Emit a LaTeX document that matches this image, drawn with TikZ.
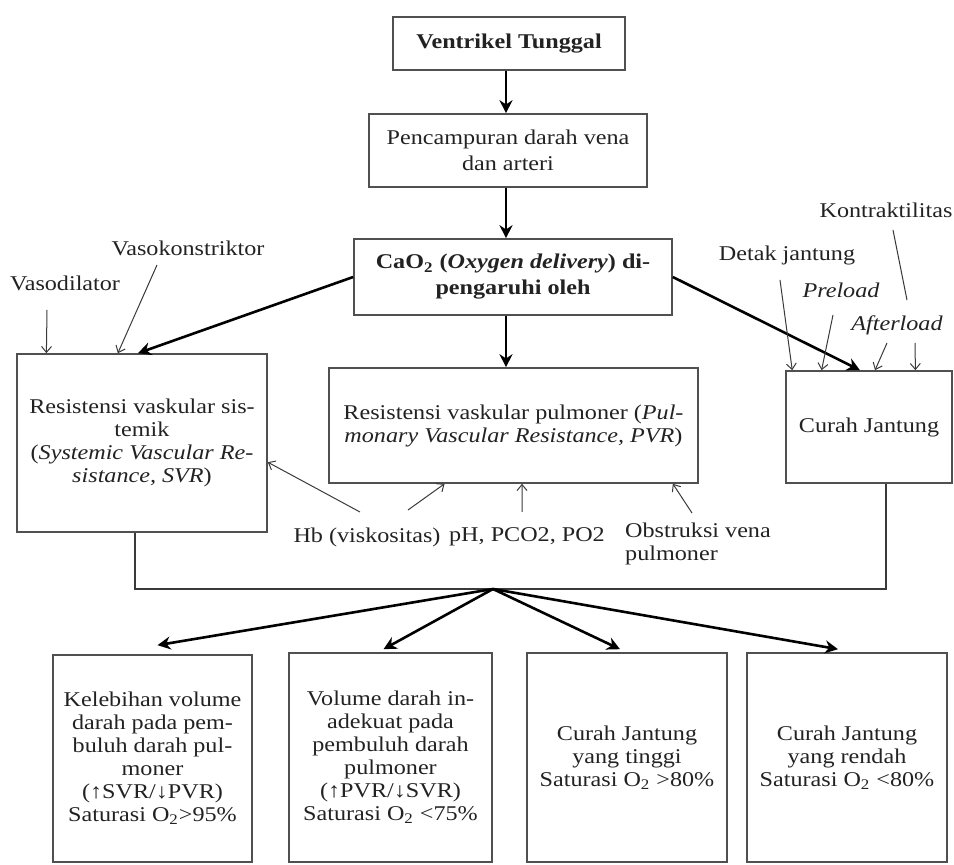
\documentclass[tikz,border=0pt]{standalone}
\usepackage{fontspec}
\setmainfont{Liberation Serif}[FakeStretch=1.15]
\usetikzlibrary{arrows.meta,calc}
\definecolor{boxgray}{HTML}{505050}
\definecolor{linegray}{HTML}{3A3A3A}
\definecolor{txt}{HTML}{222222}
\begin{document}
\begin{tikzpicture}[x=0.5pt,y=-0.5pt,
  txtfont/.style={font=\fontsize{10.5pt}{11.5pt}\selectfont},
  box/.style={draw=boxgray, line width=0.8pt, align=center, inner sep=2pt, text=txt, txtfont},
  boldbox/.style={box, font=\bfseries\fontsize{10.5pt}{13pt}\selectfont},
  lab/.style={align=left, inner sep=0pt, text=txt, txtfont},
  itlab/.style={lab, font=\itshape\fontsize{10.5pt}{11.5pt}\selectfont},
  bigarr/.style={line width=1.3pt, -{Stealth[length=6.5pt,width=6.5pt]}},
  thinarr/.style={line width=0.5pt, draw=linegray, -{Straight Barb[length=3pt,width=5pt]}},
  thinline/.style={line width=0.5pt, draw=linegray},
]
\useasboundingbox (0,0) rectangle (954,865);

% main boxes
\node[boldbox, minimum width=116pt, minimum height=26.5pt] (vt) at (509,43.5) {Ventrikel Tunggal};
\node[box, font=\fontsize{10.5pt}{13pt}\selectfont, minimum width=139pt, minimum height=36.5pt] (pc) at (508,150.5) {Pencampuran darah vena\\dan arteri};
\node[boldbox, minimum width=159pt, minimum height=38pt] (cao) at (513,277) {CaO\textsubscript{2} (\textit{Oxygen delivery}) di-\\pengaruhi oleh};
\node[box, minimum width=125pt, minimum height=89pt] (svr) at (142,443) {Resistensi vaskular sis-\\temik\\(\textit{Systemic Vascular Re-}\\\textit{sistance, SVR})};
\node[box, minimum width=184.5pt, minimum height=57.5pt] (pvr) at (513.5,425.5) {Resistensi vaskular pulmoner (\textit{Pul-}\\\textit{monary Vascular Resistance, PVR})};
\node[box, minimum width=83pt, minimum height=56pt] (cj) at (869,427) {Curah Jantung};

% bottom boxes
\node[box, minimum width=99.5pt, minimum height=103.5pt] (b1) at (152.5,758.5) {Kelebihan volume\\darah pada pem-\\buluh darah pul-\\moner\\(↑SVR/↓PVR)\\Saturasi O\textsubscript{2}>95\%};
\node[box, minimum width=101.5pt, minimum height=104.5pt] (b2) at (390.5,757.5) {Volume darah in-\\adekuat pada\\pembuluh darah\\pulmoner\\(↑PVR/↓SVR)\\Saturasi O\textsubscript{2} <75\%};
\node[box, minimum width=100pt, minimum height=104.5pt] (b3) at (627,757.5) {Curah Jantung\\yang tinggi\\Saturasi O\textsubscript{2} >80\%};
\node[box, minimum width=100pt, minimum height=104.5pt] (b4) at (847,757.5) {Curah Jantung\\yang rendah\\Saturasi O\textsubscript{2} <80\%};

% labels
\node[lab] (vd) at (65,283) {Vasodilator};
\node[lab] (vk) at (188,248) {Vasokonstriktor};
\node[lab] (dj) at (787,255) {Detak jantung};
\node[itlab] (pl) at (841,290) {Preload};
\node[itlab] (al) at (897,325) {Afterload};
\node[lab] (kt) at (886,210) {Kontraktilitas};
\node[lab] (hb) at (367,537) {Hb (viskositas)};
\node[lab] (ph) at (527,537) {pH, PCO2, PO2};
\node[lab] (ob) at (698,544) {Obstruksi vena\\pulmoner};

% main flow
\coordinate (col) at (506,0);
\draw[bigarr] (vt.south -| col) -- (pc.north -| col);
\draw[bigarr] (pc.south -| col) -- (cao.north -| col);
\draw[bigarr] (cao.south -| col) -- (pvr.north -| col);
\draw[bigarr] (cao.west) -- ($(svr.north west)!0.484!(svr.north east)$);
\draw[bigarr] (cao.east) -- ($(cj.north west)!0.446!(cj.north east)$);

% collecting line
\coordinate (hub) at (493,589);
\draw[line width=0.9pt, draw=linegray] ($(svr.south west)!0.472!(svr.south east)$) |- (hub) -| ($(cj.south west)!0.60!(cj.south east)$);
\draw[bigarr] (hub) -- ([shift={(5,-9)}]b1.north);
\draw[bigarr] (hub) -- ([shift={(-7,-3)}]b2.north);
\draw[bigarr] (hub) -- ([shift={(-7,-3)}]b3.north);
\draw[bigarr] (hub) -- ([shift={(-9,-3)}]b4.north);

% factor arrows
\draw[thinarr] ([shift={(-18,27)}]vd.center) -- ($(svr.north west)!0.12!(svr.north east)$);
\draw[thinarr] ([shift={(-31,17)}]vk.center) -- ($(svr.north west)!0.404!(svr.north east)$);
\draw[thinarr] ([shift={(-7,25)}]dj.center) -- ($(cj.north west)!0.042!(cj.north east)$);
\draw[thinarr] ([shift={(-8,25)}]pl.center) -- ($(cj.north west)!0.217!(cj.north east)$);
\draw[thinarr] ([shift={(-10,18)}]al.center) -- ($(cj.north west)!0.536!(cj.north east)$);
\draw[thinarr] ([shift={(18,18)}]al.center) -- ($(cj.north west)!0.777!(cj.north east)$);
\draw[thinline] ([shift={(7,20)}]kt.center) -- ([shift={(10,-25)}]al.center);
\draw[thinarr] ([shift={(-7,-25)}]hb.center) -- ($(svr.north east)!0.607!(svr.south east)$);
\draw[thinarr] ([shift={(41,-27)}]hb.center) -- ($(pvr.south west)!0.314!(pvr.south east)$);
\draw[thinarr] ([shift={(-5,-25)}]ph.center) -- ($(pvr.south west)!0.523!(pvr.south east)$);
\draw[thinarr] ([shift={(-6,-31)}]ob.center) -- ($(pvr.south west)!0.93!(pvr.south east)$);
\end{tikzpicture}
\end{document}
